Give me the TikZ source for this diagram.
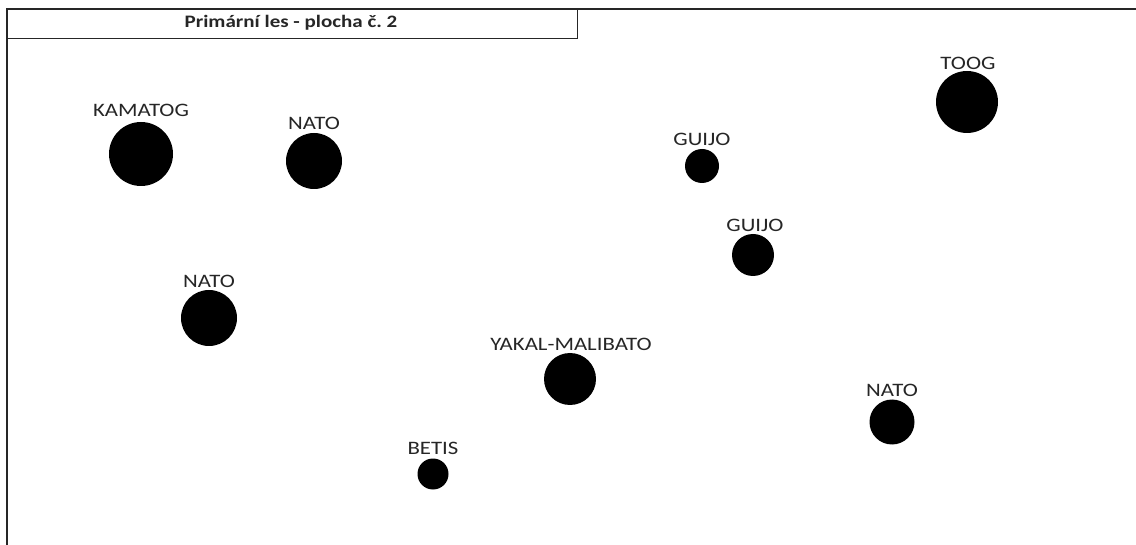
\documentclass[tikz,border=0pt]{standalone}
\usepackage{fontspec}
\setmainfont{Carlito}[FakeStretch=1.2]
\begin{document}
\begin{tikzpicture}[x=1pt,y=-1pt,
  tree/.style={circle,fill=black,inner sep=0pt,minimum size=#1},
  lbl/.style={anchor=base,inner sep=0pt,font=\fontsize{19}{21}\selectfont,text=black!85},
  frame/.style={line width=1.6pt,draw=black!85}]
\useasboundingbox (0,0) rectangle (1136,545);
\fill[white] (0,0) rectangle (1136,545);
\coordinate (tl) at (7,9);
\coordinate (tr) at (1136,9);
\coordinate (bl) at (7,545);
\draw[frame] (tr) -- (tl) -- (bl);
\node[draw=black!85,line width=1pt,minimum width=570pt,minimum height=29pt,anchor=north west,inner sep=0pt] (title) at (7,9) {};
\node[anchor=base,inner sep=0pt,font=\bfseries\fontsize{17.5}{19}\selectfont,text=black!85] (titletext) at (291,28) {Primární les - plocha č.~2};
% trees
\node[tree=64pt] (t1) at (141,154) {};
\node[lbl] (l1) at (141,117) {KAMATOG};
\node[tree=56pt] (t2) at (314,161) {};
\node[lbl] (l2) at (314,130) {NATO};
\node[tree=34pt] (t3) at (702,166) {};
\node[lbl] (l3) at (702,146) {GUIJO};
\node[tree=42pt] (t4) at (753,255) {};
\node[lbl] (l4) at (755,232) {GUIJO};
\node[tree=62pt] (t5) at (967,102) {};
\node[lbl] (l5) at (968,70) {TOOG};
\node[tree=56pt] (t6) at (209,318) {};
\node[lbl] (l6) at (209,288) {NATO};
\node[tree=52pt] (t7) at (570,379) {};
\node[lbl] (l7) at (571,351) {YAKAL-MALIBATO};
\node[tree=31pt] (t8) at (433,474) {};
\node[lbl] (l8) at (433,454) {BETIS};
\node[tree=45pt] (t9) at (892,422) {};
\node[lbl] (l9) at (892,396) {NATO};
\end{tikzpicture}
\end{document}
